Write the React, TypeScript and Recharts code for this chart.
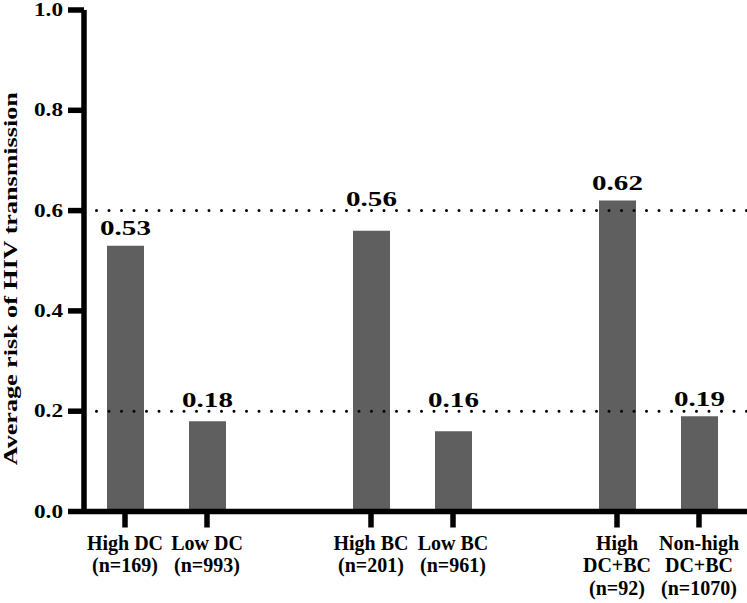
import { BarChart, Bar, XAxis, YAxis, ReferenceLine, LabelList, Label } from "recharts";

// categories (empty slots separate the three groups)
const categories = ["High DC", "Low DC", "", "High BC", "Low BC", "", "High DC+BC", "Non-high DC+BC"];
const tickLines = [
  ["High DC", "(n=169)"],
  ["Low DC", "(n=993)"],
  [],
  ["High BC", "(n=201)"],
  ["Low BC", "(n=961)"],
  [],
  ["High", "DC+BC", "(n=92)"],
  ["Non-high", "DC+BC", "(n=1070)"],
];
const risk = [0.53, 0.18, null, 0.56, 0.16, null, 0.62, 0.19];
const yTicks = [0, 0.2, 0.4, 0.6, 0.8, 1.0];
const refLevels = [0.2, 0.6];

const data = categories.map((c, i) => ({ name: c, idx: i, risk: risk[i] }));

const FONT = '"Liberation Serif", "Times New Roman", serif';

function CategoryTick(props: any) {
  const { x, y, payload } = props;
  const lines = tickLines[payload.index] || [];
  if (!lines.length) return null;
  return (
    <g>
      <line x1={x} x2={x} y1={y} y2={y + 16} stroke="#000" strokeWidth={5.5} />
      <text
        x={x}
        y={y + 38}
        textAnchor="middle"
        fontFamily={FONT}
        fontWeight="bold"
        fontSize={20}
        fill="#000"
      >
        {lines.map((l, i) => (
          <tspan key={i} x={x} dy={i === 0 ? 0 : 22.5}>
            {l}
          </tspan>
        ))}
      </text>
    </g>
  );
}

function ValueTick(props: any) {
  const { x, y, payload } = props;
  return (
    <text
      transform={`translate(${x}, ${y}) scale(1.29, 1)`}
      x={0}
      y={0}
      dy={6}
      textAnchor="end"
      fontFamily={FONT}
      fontWeight="bold"
      fontSize={18}
      fill="#000"
    >
      {Number(payload.value).toFixed(1)}
    </text>
  );
}

function BarValue(props: any) {
  const { x, y, width, height, value } = props;
  if (value == null) return null;
  const bottom = y + height;
  let base = y - 10.5;
  // a label that would sit on a dotted line is lifted just above it
  refLevels.forEach((lv) => {
    const lineY = bottom - (lv * height) / value;
    if (lineY <= base + 1 && lineY >= base - 16) base = lineY - 4.5;
  });
  const cx = x + width / 2;
  return (
    <text
      transform={`translate(${cx}, ${base}) scale(1.32, 1)`}
      x={0}
      y={0}
      textAnchor="middle"
      fontFamily={FONT}
      fontWeight="bold"
      fontSize={22}
      fill="#000"
    >
      {Number(value).toFixed(2)}
    </text>
  );
}

function YTitle(props: any) {
  const vb = props.viewBox;
  const cx = vb.x + 16.5;
  const cy = vb.y + vb.height / 2 + 18;
  return (
    <text
      transform={`translate(${cx}, ${cy}) rotate(-90) scale(1.45, 1)`}
      x={0}
      y={0}
      textAnchor="middle"
      fontFamily={FONT}
      fontWeight="bold"
      fontSize={18}
      fill="#000"
    >
      Average risk of HIV transmission
    </text>
  );
}

export default function App() {
  return (
    <div
      style={{
        position: "absolute",
        left: 0,
        top: 0,
        width: 747,
        height: 603,
        background: "#fff",
        fontFamily: FONT,
        fontWeight: "bold",
      }}
    >
      <BarChart
        width={747}
        height={603}
        data={data}
        margin={{ top: 10, right: 0, bottom: 0, left: 0 }}
        barCategoryGap={0}
      >
        <XAxis
          dataKey="idx"
          height={91.5}
          interval={0}
          padding={{ left: 0, right: 7 }}
          axisLine={{ stroke: "#000", strokeWidth: 5.5 }}
          tickLine={false}
          tickSize={0}
          tickMargin={0}
          tick={<CategoryTick />}
        />
        <YAxis
          width={84}
          domain={[0, 1]}
          ticks={yTicks}
          interval={0}
          axisLine={{ stroke: "#000", strokeWidth: 5.5 }}
          tickLine={{ stroke: "#000", strokeWidth: 5.5 }}
          tickSize={16}
          tickMargin={5}
          tick={<ValueTick />}
        >
          <Label content={<YTitle />} />
        </YAxis>
        {refLevels.map((v) => (
          <ReferenceLine
            key={v}
            y={v}
            stroke="#000"
            strokeWidth={3}
            strokeDasharray="0 12.5"
            strokeLinecap="round"
          />
        ))}
        <Bar dataKey="risk" fill="#5f5f5f" barSize={37} isAnimationActive={false}>
          <LabelList dataKey="risk" content={<BarValue />} />
        </Bar>
      </BarChart>
    </div>
  );
}
